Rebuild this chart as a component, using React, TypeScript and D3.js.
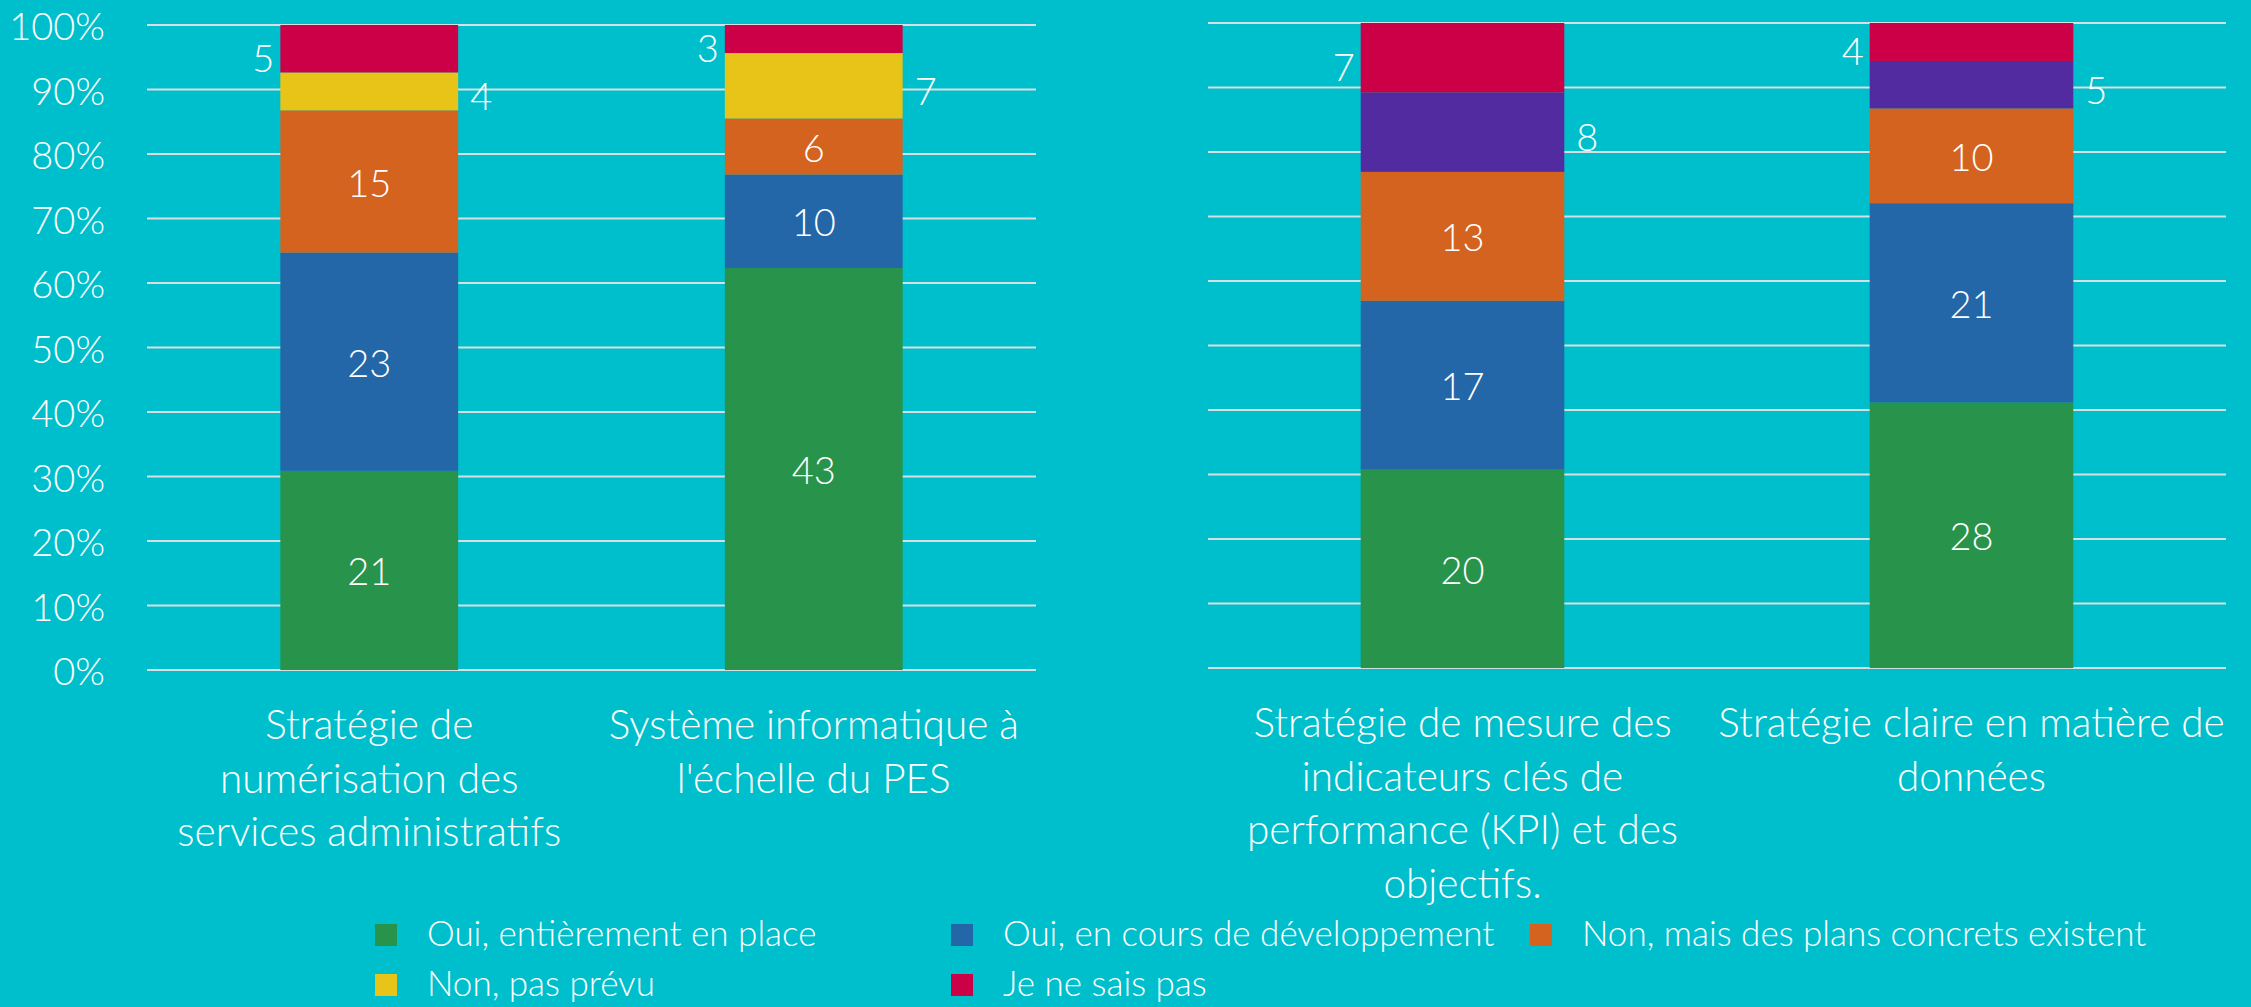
import React, { useEffect } from "react";
import * as d3 from "d3";

const W = 2251;
const H = 1007;

const seriesNames = [
  "Oui, entièrement en place",
  "Oui, en cours de développement",
  "Non, mais des plans concrets existent",
  "Non, pas prévu",
  "Je ne sais pas",
];

const leftCategories = [
  ["Stratégie de", "numérisation des", "services administratifs"],
  ["Système informatique à", "l'échelle du PES"],
];
const rightCategories = [
  ["Stratégie de mesure des", "indicateurs clés de", "performance (KPI) et des", "objectifs."],
  ["Stratégie claire en matière de", "données"],
];

// values per series, one entry per category
const leftGreen = [21, 43];
const leftBlue = [23, 10];
const leftOrange = [15, 6];
const leftFourth = [4, 7];
const leftRed = [5, 3];

const rightGreen = [20, 28];
const rightBlue = [17, 21];
const rightOrange = [13, 10];
const rightFourth = [8, 5];
const rightRed = [7, 4];

const yTicks = [0, 0.1, 0.2, 0.3, 0.4, 0.5, 0.6, 0.7, 0.8, 0.9, 1];

const BG = "#00BFCC";
const GREEN = "#28934A";
const BLUE = "#2367A8";
const ORANGE = "#D4631F";
const YELLOW = "#E9C418";
const RED = "#CC0047";
const PURPLE = "#532BA1";
const GRID = "#D8DFE0";

const leftColors = [GREEN, BLUE, ORANGE, YELLOW, RED];
const rightColors = [GREEN, BLUE, ORANGE, PURPLE, RED];
const labelPlacement = ["inside", "inside", "inside", "right", "left"];

const FONT = "Lato, 'Source Sans Pro', sans-serif";

type Panel = {
  cats: string[][];
  values: number[][];
  colors: string[];
  x0: number;
  x1: number;
  yTop: number;
  yBottom: number;
  axis: boolean;
};

const panels: Panel[] = [
  {
    cats: leftCategories,
    values: [leftGreen, leftBlue, leftOrange, leftFourth, leftRed],
    colors: leftColors,
    x0: 147,
    x1: 1036,
    yTop: 25,
    yBottom: 670,
    axis: true,
  },
  {
    cats: rightCategories,
    values: [rightGreen, rightBlue, rightOrange, rightFourth, rightRed],
    colors: rightColors,
    x0: 1208,
    x1: 2226,
    yTop: 23,
    yBottom: 668,
    axis: false,
  },
];

function PanelView({ p }: { p: Panel }) {
  const ids = p.cats.map((_, i) => String(i));
  const x = d3.scaleBand<string>().domain(ids).range([p.x0, p.x1]).paddingInner(0.6).paddingOuter(0.3);
  const y = d3.scaleLinear().domain([0, 1]).range([p.yBottom, p.yTop]);
  const rows = ids.map((id, i) => {
    const r: any = { id };
    seriesNames.forEach((s, k) => (r[s] = p.values[k][i]));
    return r;
  });
  const stacked = d3.stack<any>().keys(seriesNames).offset(d3.stackOffsetExpand)(rows);
  const bw = x.bandwidth();
  return (
    <g>
      {yTicks.map((t) => (
        <line key={t} x1={p.x0} x2={p.x1} y1={y(t)} y2={y(t)} stroke={GRID} strokeWidth={2} />
      ))}
      {p.axis &&
        yTicks.map((t) => (
          <text
            key={"l" + t}
            x={105}
            y={y(t)}
            textAnchor="end"
            dominantBaseline="central"
            fill="#fff"
            fontSize={38}
            fontWeight={300}
          >
            {d3.format(".0%")(t)}
          </text>
        ))}
      {stacked.map((layer, k) =>
        layer.map((d, i) => {
          const bx = x(ids[i])!;
          const top = y(d[1]);
          const bot = y(d[0]);
          return (
            <rect key={k + "-" + i} x={bx} y={top} width={bw} height={bot - top} fill={p.colors[k]} />
          );
        })
      )}
      {stacked.map((layer, k) =>
        layer.map((d, i) => {
          const bx = x(ids[i])!;
          const cy = (y(d[1]) + y(d[0])) / 2;
          const v = p.values[k][i];
          const pl = labelPlacement[k];
          let tx = bx + bw / 2;
          let anchor: any = "middle";
          let dy = 0;
          if (pl === "right") {
            tx = bx + bw + 12;
            anchor = "start";
            dy = 4;
          } else if (pl === "left") {
            tx = bx - 6;
            anchor = "end";
            dy = 8;
          }
          return (
            <text
              key={"v" + k + "-" + i}
              x={tx}
              y={cy + dy}
              textAnchor={anchor}
              dominantBaseline="central"
              fill="#fff"
              fontSize={38}
              fontWeight={300}
            >
              {v}
            </text>
          );
        })
      )}
      {p.cats.map((lines, i) =>
        lines.map((ln, j) => (
          <text
            key={"c" + i + "-" + j}
            x={x(ids[i])! + bw / 2}
            y={p.yBottom + 69 + j * 53.5}
            textAnchor="middle"
            fill="#fff"
            fontSize={40.5}
            fontWeight={300}
          >
            {ln}
          </text>
        ))
      )}
    </g>
  );
}

const legendCols = [375, 951, 1530];
const legendRows = [924, 974];

export default function App() {
  useEffect(() => {
    document.body.style.margin = "0";
    document.body.style.background = BG;
  }, []);
  return (
    <svg width={W} height={H} style={{ display: "block", fontFamily: FONT }}>
      <rect x={0} y={0} width={W} height={H} fill={BG} />
      {panels.map((p, i) => (
        <PanelView key={i} p={p} />
      ))}
      {seriesNames.map((s, k) => {
        const col = legendCols[k % 3];
        const row = legendRows[Math.floor(k / 3)];
        return (
          <g key={s}>
            <rect x={col} y={row} width={22} height={22} fill={leftColors[k]} />
            <text x={col + 52} y={row + 8} dominantBaseline="central" fill="#fff" fontSize={35} fontWeight={300}>
              {s}
            </text>
          </g>
        );
      })}
    </svg>
  );
}
